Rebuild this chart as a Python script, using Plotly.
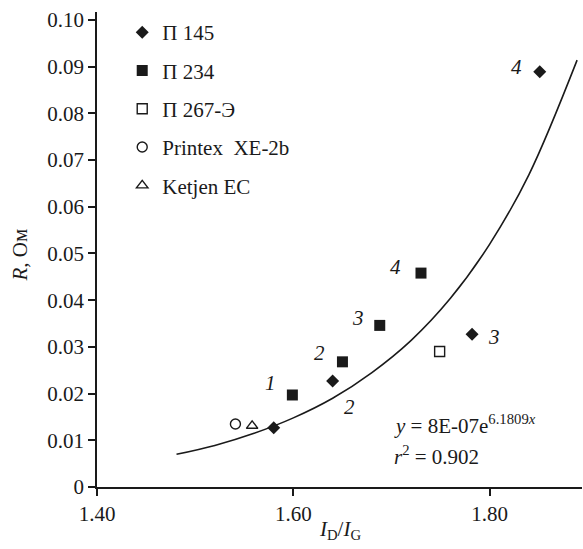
import plotly.graph_objects as go

# ---- data ----
p145_x = [1.580, 1.640, 1.782, 1.851]
p145_y = [0.0127, 0.0227, 0.0327, 0.0889]
p145_lbl = ["", "2", "3", "4"]

p234_x = [1.599, 1.650, 1.688, 1.730]
p234_y = [0.0197, 0.0268, 0.0346, 0.0458]
p234_lbl = ["1", "2", "3", "4"]

p267_x = [1.749]
p267_y = [0.0290]

printex_x = [1.541]
printex_y = [0.0135]

ketjen_x = [1.558]
ketjen_y = [0.0131]

trend_x = [1.481, 1.52, 1.56, 1.60, 1.64, 1.68, 1.72, 1.76, 1.80, 1.84, 1.889]
trend_y = [0.0070, 0.0089, 0.0115, 0.0148, 0.0190, 0.0245, 0.0314, 0.0404, 0.0520, 0.0669, 0.0914]

y_ticks = [0, 0.01, 0.02, 0.03, 0.04, 0.05, 0.06, 0.07, 0.08, 0.09, 0.10]
y_ticktext = ["0", "0.01", "0.02", "0.03", "0.04", "0.05", "0.06", "0.07", "0.08", "0.09", "0.10"]
x_ticks = [1.40, 1.60, 1.80]
x_ticktext = ["1.40", "1.60", "1.80"]

# ---- styling ----
FONT = "Liberation Serif"
FS = 21
INK = "#1a1a1a"


def fnt():
    return dict(family=FONT, size=FS, color=INK)


fig = go.Figure()

fig.add_trace(go.Scatter(x=trend_x, y=trend_y, mode="lines", line=dict(color=INK, width=1.6, shape="spline"),
                         showlegend=False, hoverinfo="skip"))

fig.add_trace(go.Scatter(x=p145_x, y=p145_y, mode="markers", name="П 145", legendgroup="a",
                         marker=dict(symbol="diamond", size=10, color=INK)))
fig.add_trace(go.Scatter(x=p234_x, y=p234_y, mode="markers", name="П 234", legendgroup="b",
                         marker=dict(symbol="square", size=11, color=INK)))
fig.add_trace(go.Scatter(x=p267_x, y=p267_y, mode="markers", name="П 267-Э", legendgroup="c",
                         marker=dict(symbol="square-open", size=10, color=INK, line=dict(width=1.4))))
fig.add_trace(go.Scatter(x=printex_x, y=printex_y, mode="markers", name="Printex  XE-2b", legendgroup="d",
                         marker=dict(symbol="circle-open", size=10, color=INK, line=dict(width=1.4))))
fig.add_trace(go.Scatter(x=ketjen_x, y=ketjen_y, mode="markers", name="Ketjen EC", legendgroup="e",
                         marker=dict(symbol="triangle-up-open", size=10, color=INK, line=dict(width=1.4))))

# point labels (offsets in px)
p145_off = [(0, 0), (17, -26), (22, -3), (-23, 5)]
p234_off = [(-22, 12), (-23, 9), (-22, 7), (-25, 6)]
anns = []
for xs, ys, lb, off in [(p145_x, p145_y, p145_lbl, p145_off), (p234_x, p234_y, p234_lbl, p234_off)]:
    for x, y, t, (dx, dy) in zip(xs, ys, lb, off):
        if t:
            anns.append(dict(x=x, y=y, xref="x", yref="y", text=f"<i>{t}</i>", showarrow=False,
                             xshift=dx, yshift=dy, font=fnt()))

anns.append(dict(x=0.609, y=0.131, xref="paper", yref="paper", xanchor="left", yanchor="middle",
                 text="<i>y</i> = 8E-07e<sup>6.1809<i>x</i></sup>", showarrow=False, font=fnt()))
anns.append(dict(x=0.609, y=0.067, xref="paper", yref="paper", xanchor="left", yanchor="middle",
                 text="<i>r</i><sup>2</sup> = 0.902", showarrow=False, font=fnt()))
# axis titles
anns.append(dict(x=0.5, y=-0.09, xref="paper", yref="paper", xanchor="center", yanchor="middle",
                 text="<i>I</i><sub>D</sub>/<i>I</i><sub>G</sub>", showarrow=False, font=fnt()))
anns.append(dict(x=-0.158, y=0.488, xref="paper", yref="paper", xanchor="center", yanchor="middle",
                 text="<i>R</i>, Ом", textangle=-90, showarrow=False, font=fnt()))

fig.update_layout(
    width=583, height=549,
    margin=dict(l=97, r=1, t=12, b=62),
    paper_bgcolor="white", plot_bgcolor="white",
    font=fnt(),
    annotations=anns,
    showlegend=True,
    legend=dict(x=0.052, y=1.0, xanchor="left", yanchor="top", traceorder="grouped",
                tracegroupgap=8, bgcolor="rgba(0,0,0,0)", font=fnt()),
    xaxis=dict(range=[1.40, 1.894], tickvals=x_ticks, ticktext=x_ticktext, showgrid=False, zeroline=False,
               showline=True, linecolor=INK, linewidth=1.5, ticks="outside", ticklen=7, tickwidth=1.5,
               tickcolor=INK, tickfont=fnt()),
    yaxis=dict(range=[0, 0.1017], tickvals=y_ticks, ticktext=y_ticktext, showgrid=False, zeroline=False,
               showline=True, linecolor=INK, linewidth=1.5, ticks="outside", ticklen=7, tickwidth=1.5,
               tickcolor=INK, tickfont=fnt()),
)

# make sure every SVG text uses the serif face, then redraw so measurements follow it
post = """
var st = document.createElement('style');
st.textContent = '.js-plotly-plot svg text, .js-plotly-plot svg tspan {font-family: "Liberation Serif", "Times New Roman", serif !important;}';
document.head.appendChild(st);
var gd = document.getElementById('{plot_id}');
Plotly.relayout(gd, {'xaxis.range': [1.40, 1.894]});
"""

fig.write_html("out.html", post_script=post)
